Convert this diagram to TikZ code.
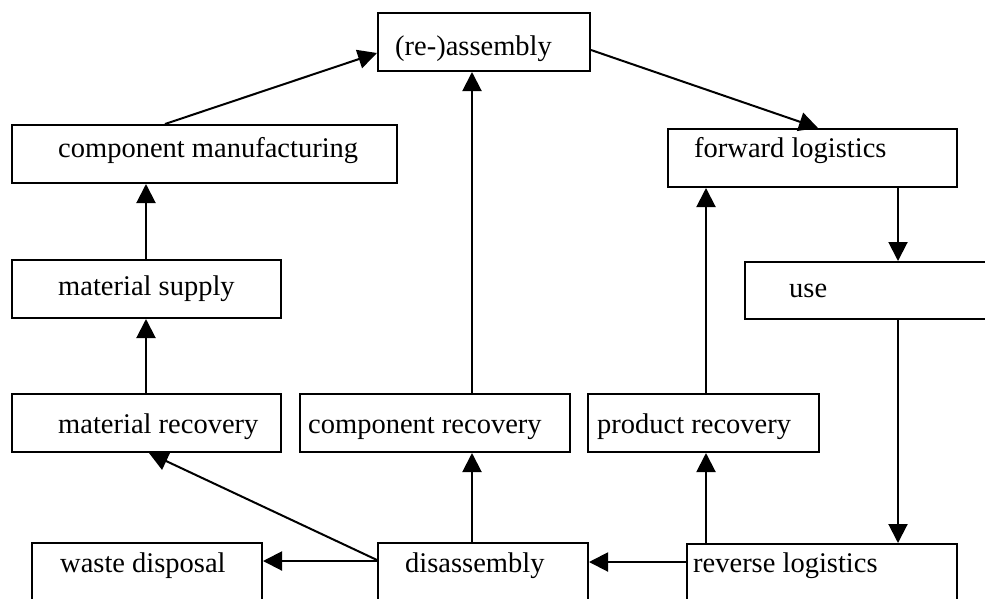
\documentclass[tikz,border=0pt]{standalone}
\usepackage{fontspec}
\setmainfont{Liberation Serif}
\usetikzlibrary{arrows.meta}
\tikzset{
  x=1pt, y=-1pt,
  box/.style={draw=black, line width=2pt, fill=white, rectangle, inner sep=0pt, anchor=north west},
  txt/.style={anchor=base west, inner sep=0pt, font=\fontsize{28.5}{30}\selectfont},
  conn/.style={line width=2pt, -{Triangle[length=19pt,width=19pt]}},
  plain/.style={line width=2pt}
}
\begin{document}
\begin{tikzpicture}
\useasboundingbox (0,0) rectangle (985,598);
\clip (0,0) rectangle (985,598);
\fill[white] (0,0) rectangle (985,598);

% boxes
\node[box, minimum width=212pt, minimum height=58pt,
  label={[txt, xshift=18pt, yshift=-43pt]north west:(re-)assembly}] (ra) at (377,12) {};
\node[box, minimum width=385pt, minimum height=58pt,
  label={[txt, xshift=47pt, yshift=-33pt]north west:component manufacturing}] (cm) at (11,124) {};
\node[box, minimum width=289pt, minimum height=58pt,
  label={[txt, xshift=27pt, yshift=-29pt]north west:forward logistics}] (fl) at (667,128) {};
\node[box, minimum width=269pt, minimum height=58pt,
  label={[txt, xshift=47pt, yshift=-36pt]north west:material supply}] (ms) at (11,259) {};
\node[box, minimum width=270pt, minimum height=57pt,
  label={[txt, xshift=45pt, yshift=-36pt]north west:use}] (use) at (744,261) {};
\node[box, minimum width=269pt, minimum height=58pt,
  label={[txt, xshift=47pt, yshift=-40pt]north west:material recovery}] (mr) at (11,393) {};
\node[box, minimum width=270pt, minimum height=58pt,
  label={[txt, xshift=9pt, yshift=-40pt]north west:component recovery}] (cr) at (299,393) {};
\node[box, minimum width=231pt, minimum height=58pt,
  label={[txt, xshift=10pt, yshift=-40pt]north west:product recovery}] (pr) at (587,393) {};
\node[box, minimum width=230pt, minimum height=60pt,
  label={[txt, xshift=29pt, yshift=-30pt]north west:waste disposal}] (wd) at (31,542) {};
\node[box, minimum width=210pt, minimum height=60pt,
  label={[txt, xshift=28pt, yshift=-30pt]north west:disassembly}] (ds) at (377,542) {};
\node[box, minimum width=270pt, minimum height=60pt,
  label={[txt, xshift=7pt, yshift=-29pt]north west:reverse logistics}] (rl) at (686,543) {};

% connectors
\draw[conn] ([xshift=154pt]cm.north west) -- ([yshift=-41pt]ra.north west);
\draw[conn] ([yshift=-38pt]ra.north east) -- ([xshift=151pt]fl.north west);
\draw[conn] ([xshift=231pt]fl.south west) -- ([xshift=154pt]use.north west);
\draw[conn] ([xshift=154pt]use.south west) -- ([xshift=212pt]rl.north west);
\draw[conn] ([yshift=-19pt]rl.north west) -- ([yshift=-20pt]ds.north east);
\draw[conn] ([xshift=20pt]rl.north west) -- ([xshift=119pt]pr.south west);
\draw[conn] ([xshift=119pt]pr.north west) -- ([xshift=39pt]fl.south west);
\draw[conn] ([xshift=95pt]ds.north west) -- ([xshift=173pt]cr.south west);
\draw[conn] ([xshift=173pt]cr.north west) -- ([xshift=95pt]ra.south west);
\draw[conn] ([yshift=-19pt]ds.north west) -- ([yshift=-19pt]wd.north east);
\draw[conn] ([yshift=-18pt]ds.north west) -- ([xshift=138pt]mr.south west);
\draw[conn] ([xshift=135pt]mr.north west) -- ([xshift=135pt]ms.south west);
\draw[conn] ([xshift=135pt]ms.north west) -- ([xshift=135pt]cm.south west);
\end{tikzpicture}
\end{document}
